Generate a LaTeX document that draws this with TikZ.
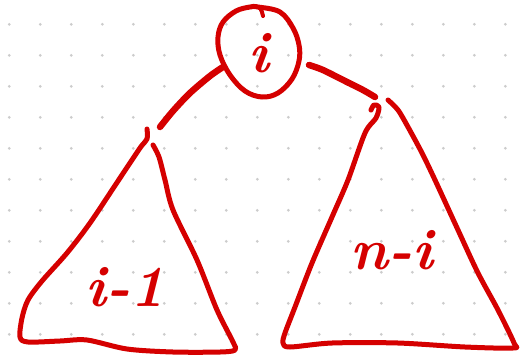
\documentclass[tikz,border=0pt]{standalone}
\definecolor{pen}{RGB}{213,0,0}
\definecolor{dotc}{RGB}{204,204,204}
\begin{document}
\begin{tikzpicture}[x=1pt,y=-1pt,
  ink/.style={draw=pen,line cap=round,line join=round},
  thickink/.style={ink,line width=6.5pt},
  midink/.style={ink,line width=5pt},
  hand/.style={text=pen,font=\fontsize{58}{58}\selectfont\bfseries\itshape,inner sep=0pt}]
\fill[white] (0,0) rectangle (529,359);
\useasboundingbox (0,0) rectangle (529,359);
% dotted grid
\foreach \i in {0,...,16}{
  \foreach \j in {0,...,10}{
    \fill[dotc] ({9.3+31*\i},{24.3+31*\j}) circle (1.5pt);
  }
}
% root circle
\draw[midink] plot[smooth cycle,tension=0.6] coordinates {
  (258,7) (280,12) (293,28) (299,45) (299,61) (292,79) (278,93) (262,97)
  (245,91) (230,75) (220,55) (218,37) (223,22) (236,11) (250,7)};
\draw[ink,line width=4pt] (255,6) .. controls (261,8) .. (263,16);
\node[hand] (root) at (259,53) {i};
% connectors
\coordinate (lc1) at (223,67);
\coordinate (lc2) at (160,127);
\coordinate (rc1) at (309,65);
\coordinate (rc2) at (375,97);
\draw[thickink] plot[smooth] coordinates {(lc1) (210,76) (190,93) (173,111) (lc2)};
\draw[thickink] plot[smooth] coordinates {(rc1) (323,70) (347,82) (363,90) (rc2)};
% left subtree
\draw[midink] plot[smooth,tension=0.5] coordinates {
  (147,129) (147,139) (140,148) (118,181) (90,223) (67,253) (42,281) (28,300)
  (22,318) (20,337) (28,342) (60,341) (87,340) (127,349) (173,352) (220,352)
  (235,350) (233,342) (217,310) (197,260) (173,210) (165,180) (159,157) (153,145)};
\node[hand] (left) at (125,287) {i-1};
% right subtree
\draw[midink] plot[smooth,tension=0.5] coordinates {
  (371,110) (374,105) (379,107) (376,118) (365,133) (348,180) (332,217)
  (312,263) (295,307) (285,333) (283,343) (290,347) (332,343) (398,343)
  (465,347) (513,348) (514,343) (498,310) (478,273) (458,230) (435,180)
  (422,153) (408,127) (398,110) (388,100)};
\node[hand] (right) at (392,250) {n-i};
\end{tikzpicture}
\end{document}
